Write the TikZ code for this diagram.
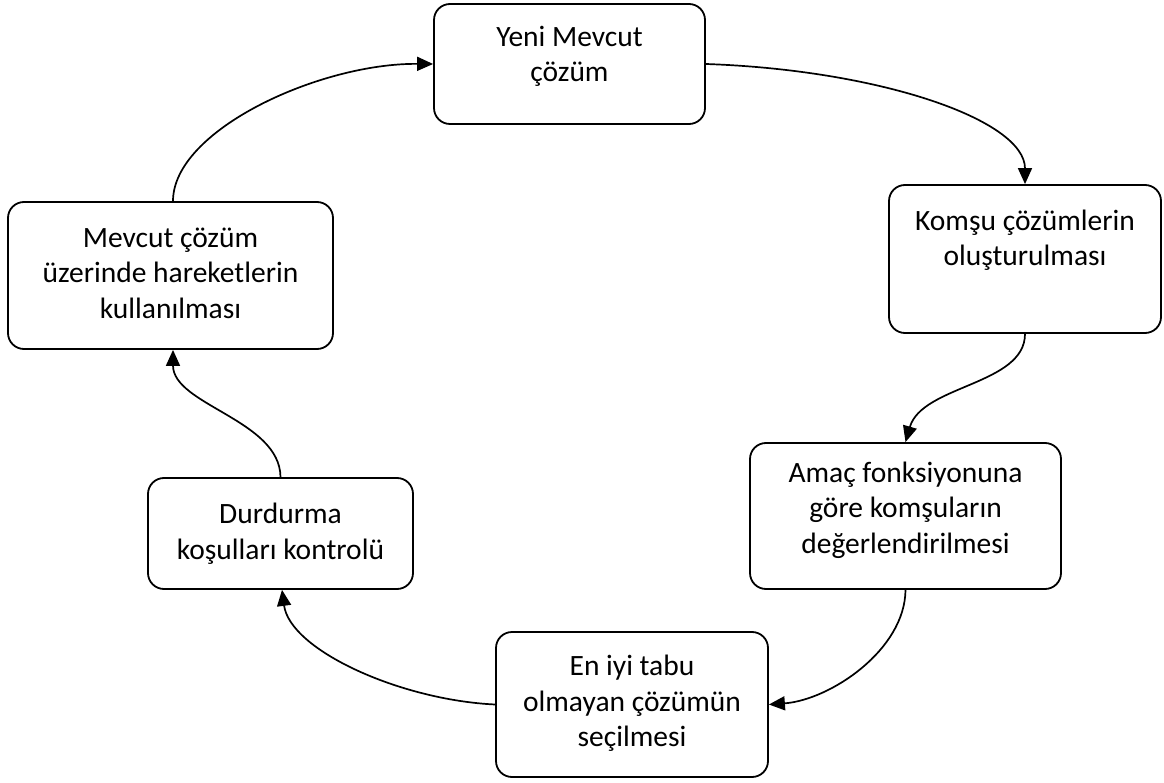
\documentclass[tikz,border=0pt]{standalone}
\usepackage{fontspec}
\setmainfont{Carlito}
\usetikzlibrary{arrows.meta}
\begin{document}
\begin{tikzpicture}[x=1pt,y=-1pt,
  box/.style={draw, line width=1.8pt, rounded corners=16pt, fill=white, inner sep=0pt},
  txt/.style={align=center, font=\fontsize{29.5}{35.5}\selectfont, inner sep=0pt},
  conn/.style={line width=1.7pt, -{Triangle[length=16pt,width=14pt]}}]
\useasboundingbox[fill=white] (0,0) rectangle (1164,783);
\node[box, minimum width=271pt, minimum height=120pt] (b1) at (569.5,64) {};
\node[box, minimum width=272pt, minimum height=148pt] (b2) at (1025,259) {};
\node[box, minimum width=311pt, minimum height=146pt] (b3) at (905.5,516) {};
\node[box, minimum width=272pt, minimum height=145pt] (b4) at (632,704.5) {};
\node[box, minimum width=265pt, minimum height=111pt] (b5) at (280.5,533.5) {};
\node[box, minimum width=325pt, minimum height=147pt] (b6) at (170.5,275.5) {};
\node[txt] (t1) at (569.5,56.5) {Yeni Mevcut\\çözüm};
\node[txt] (t2) at (1025,240) {Komşu çözümlerin\\oluşturulması};
\node[txt] (t3) at (905.5,510) {Amaç fonksiyonuna\\göre komşuların\\değerlendirilmesi};
\node[txt] (t4) at (632,703.5) {En iyi tabu\\olmayan çözümün\\seçilmesi};
\node[txt] (t5) at (280.5,533.5) {Durdurma\\koşulları kontrolü};
\node[txt] (t6) at (170.5,273) {Mevcut çözüm\\üzerinde hareketlerin\\kullanılması};
\draw[conn] (b1.east) .. controls (880,70) and (1025,120) .. (b2.north);
\draw[conn] (b2.south) .. controls (1025,385) and (922,385) .. (b3.north);
\draw[conn] (b3.south) .. controls (905,650) and (830,700) .. (b4.east);
\draw[conn] (b4.west) .. controls (400,700) and (290,650) .. ([xshift=1.5pt]b5.south);
\draw[conn] (b5.north) .. controls (280,420) and (173,405) .. ([xshift=2.5pt]b6.south);
\draw[conn] ([xshift=2.5pt]b6.north) .. controls (173,130) and (320,63) .. (b1.west);
\end{tikzpicture}
\end{document}
